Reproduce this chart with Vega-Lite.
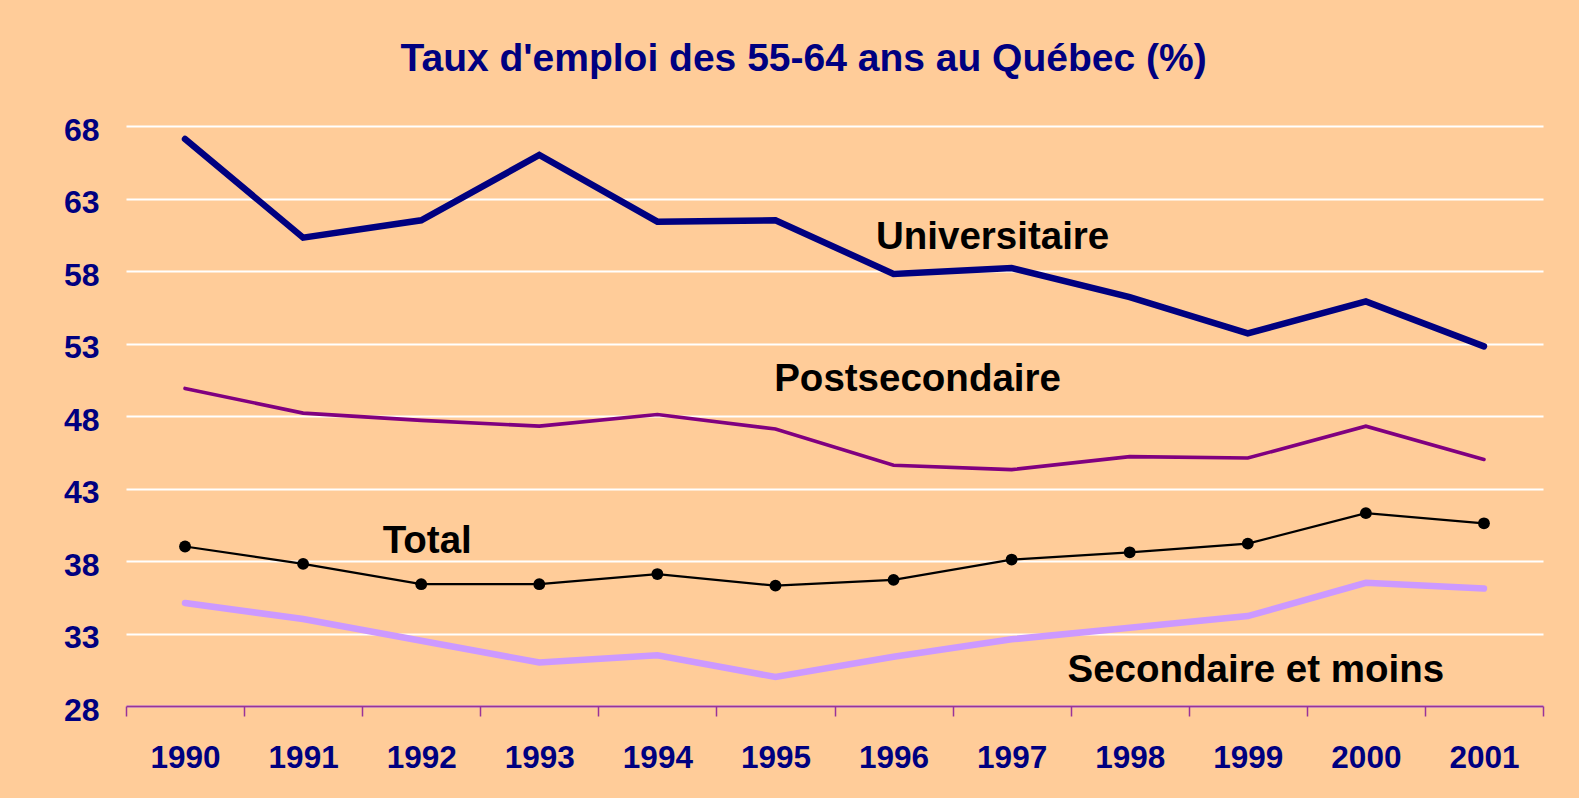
{
  "$schema": "https://vega.github.io/schema/vega-lite/v6.json",
  "width": 1417,
  "height": 580,
  "autosize": {"type": "none"},
  "padding": {"left": 126, "top": 126, "right": 36, "bottom": 92},
  "background": "#FFCC99",
  "config": {"view": {"stroke": null}, "font": "Liberation Sans"},
  "title": {
    "text": "Taux d'emploi des 55-64 ans au Québec (%)",
    "fontSize": 39,
    "fontWeight": "bold",
    "color": "#000080",
    "font": "Liberation Sans",
    "anchor": "middle",
    "frame": "bounds",
    "offset": 35
  },
  "datasets": {
    "series": [
      {"year": "1990", "serie": "Universitaire", "value": 67.1},
      {"year": "1991", "serie": "Universitaire", "value": 60.3},
      {"year": "1992", "serie": "Universitaire", "value": 61.5},
      {"year": "1993", "serie": "Universitaire", "value": 66.0},
      {"year": "1994", "serie": "Universitaire", "value": 61.4},
      {"year": "1995", "serie": "Universitaire", "value": 61.5},
      {"year": "1996", "serie": "Universitaire", "value": 57.8},
      {"year": "1997", "serie": "Universitaire", "value": 58.2},
      {"year": "1998", "serie": "Universitaire", "value": 56.2},
      {"year": "1999", "serie": "Universitaire", "value": 53.7},
      {"year": "2000", "serie": "Universitaire", "value": 55.9},
      {"year": "2001", "serie": "Universitaire", "value": 52.8},
      {"year": "1990", "serie": "Postsecondaire", "value": 49.9},
      {"year": "1991", "serie": "Postsecondaire", "value": 48.2},
      {"year": "1992", "serie": "Postsecondaire", "value": 47.7},
      {"year": "1993", "serie": "Postsecondaire", "value": 47.3},
      {"year": "1994", "serie": "Postsecondaire", "value": 48.1},
      {"year": "1995", "serie": "Postsecondaire", "value": 47.1},
      {"year": "1996", "serie": "Postsecondaire", "value": 44.6},
      {"year": "1997", "serie": "Postsecondaire", "value": 44.3},
      {"year": "1998", "serie": "Postsecondaire", "value": 45.2},
      {"year": "1999", "serie": "Postsecondaire", "value": 45.1},
      {"year": "2000", "serie": "Postsecondaire", "value": 47.3},
      {"year": "2001", "serie": "Postsecondaire", "value": 45.0},
      {"year": "1990", "serie": "Total", "value": 39.0},
      {"year": "1991", "serie": "Total", "value": 37.8},
      {"year": "1992", "serie": "Total", "value": 36.4},
      {"year": "1993", "serie": "Total", "value": 36.4},
      {"year": "1994", "serie": "Total", "value": 37.1},
      {"year": "1995", "serie": "Total", "value": 36.3},
      {"year": "1996", "serie": "Total", "value": 36.7},
      {"year": "1997", "serie": "Total", "value": 38.1},
      {"year": "1998", "serie": "Total", "value": 38.6},
      {"year": "1999", "serie": "Total", "value": 39.2},
      {"year": "2000", "serie": "Total", "value": 41.3},
      {"year": "2001", "serie": "Total", "value": 40.6},
      {"year": "1990", "serie": "Secondaire et moins", "value": 35.1},
      {"year": "1991", "serie": "Secondaire et moins", "value": 34.0},
      {"year": "1992", "serie": "Secondaire et moins", "value": 32.5},
      {"year": "1993", "serie": "Secondaire et moins", "value": 31.0},
      {"year": "1994", "serie": "Secondaire et moins", "value": 31.5},
      {"year": "1995", "serie": "Secondaire et moins", "value": 30.0},
      {"year": "1996", "serie": "Secondaire et moins", "value": 31.4},
      {"year": "1997", "serie": "Secondaire et moins", "value": 32.6},
      {"year": "1998", "serie": "Secondaire et moins", "value": 33.4},
      {"year": "1999", "serie": "Secondaire et moins", "value": 34.2},
      {"year": "2000", "serie": "Secondaire et moins", "value": 36.5},
      {"year": "2001", "serie": "Secondaire et moins", "value": 36.1}
    ],
    "labels": [
      {"label": "Universitaire", "year": "1997", "value": 59.5},
      {"label": "Postsecondaire", "year": "1996", "value": 49.7},
      {"label": "Total", "year": "1992", "value": 38.55},
      {"label": "Secondaire et moins", "year": "1999", "value": 29.63}
    ]
  },
  "encoding": {
    "x": {
      "field": "year",
      "type": "ordinal",
      "scale": {"type": "band", "paddingInner": 0, "paddingOuter": 0},
      "axis": {
        "title": null,
        "labelAngle": 0,
        "tickBand": "extent",
        "domainColor": "#993399",
        "domainWidth": 2,
        "tickColor": "#993399",
        "tickWidth": 1.5,
        "tickSize": 10,
        "labelPadding": 26,
        "labelFont": "Liberation Sans",
        "labelFontSize": 31.5,
        "labelFontWeight": "bold",
        "labelColor": "#000080",
        "grid": false
      }
    },
    "y": {
      "field": "value",
      "type": "quantitative",
      "scale": {"domain": [28, 68], "nice": false, "zero": false},
      "axis": {
        "title": null,
        "values": [28, 33, 38, 43, 48, 53, 58, 63, 68],
        "domain": false,
        "ticks": false,
        "grid": true,
        "gridColor": "#FFFFFF",
        "gridWidth": 2,
        "gridOpacity": 1,
        "labelPadding": 27,
        "labelOffset": 4,
        "labelFont": "Liberation Sans",
        "labelFontSize": 32,
        "labelFontWeight": "bold",
        "labelColor": "#000080"
      }
    }
  },
  "layer": [
    {
      "data": {"name": "series"},
      "transform": [{"filter": "datum.serie === 'Secondaire et moins'"}],
      "mark": {"type": "line", "color": "#CC99FF", "strokeWidth": 6.5, "strokeCap": "round"}
    },
    {
      "data": {"name": "series"},
      "transform": [{"filter": "datum.serie === 'Postsecondaire'"}],
      "mark": {"type": "line", "color": "#800080", "strokeWidth": 3.6, "strokeCap": "round"}
    },
    {
      "data": {"name": "series"},
      "transform": [{"filter": "datum.serie === 'Universitaire'"}],
      "mark": {"type": "line", "color": "#000080", "strokeWidth": 6.5, "strokeCap": "round"}
    },
    {
      "data": {"name": "series"},
      "transform": [{"filter": "datum.serie === 'Total'"}],
      "mark": {"type": "line", "color": "#000000", "strokeWidth": 2.2}
    },
    {
      "data": {"name": "series"},
      "transform": [{"filter": "datum.serie === 'Total'"}],
      "mark": {"type": "point", "filled": true, "color": "#000000", "size": 140, "opacity": 1}
    },
    {
      "data": {"name": "labels"},
      "transform": [{"filter": "datum.label === 'Universitaire'"}],
      "mark": {"type": "text", "font": "Liberation Sans", "fontSize": 38.5, "fontWeight": "bold", "color": "#000000", "align": "center", "baseline": "alphabetic", "dx": -19},
      "encoding": {"text": {"field": "label"}}
    },
    {
      "data": {"name": "labels"},
      "transform": [{"filter": "datum.label === 'Postsecondaire'"}],
      "mark": {"type": "text", "font": "Liberation Sans", "fontSize": 38.5, "fontWeight": "bold", "color": "#000000", "align": "center", "baseline": "alphabetic", "dx": 24},
      "encoding": {"text": {"field": "label"}}
    },
    {
      "data": {"name": "labels"},
      "transform": [{"filter": "datum.label === 'Total'"}],
      "mark": {"type": "text", "font": "Liberation Sans", "fontSize": 38.5, "fontWeight": "bold", "color": "#000000", "align": "center", "baseline": "alphabetic", "dx": 6},
      "encoding": {"text": {"field": "label"}}
    },
    {
      "data": {"name": "labels"},
      "transform": [{"filter": "datum.label === 'Secondaire et moins'"}],
      "mark": {"type": "text", "font": "Liberation Sans", "fontSize": 38.5, "fontWeight": "bold", "color": "#000000", "align": "center", "baseline": "alphabetic", "dx": 8},
      "encoding": {"text": {"field": "label"}}
    }
  ]
}
